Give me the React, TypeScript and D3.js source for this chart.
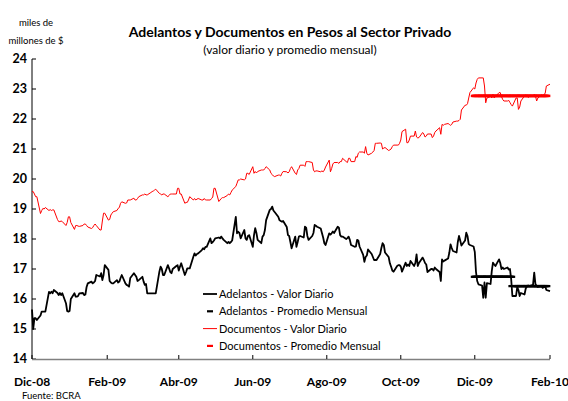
import React from "react";
import * as d3 from "d3";

// Daily values (miles de millones de $), business days from 1-Dec-2008 to 1-Feb-2010
const adelantosDiario = [
  15.65, 15.0, 15.36, 15.36, 15.3,
  15.45, 15.58, 15.58, 15.58, 15.58,
  16.24, 16.19, 16.24, 16.19, 16.3,
  16.2, 16.13, 16.2, 16.13, 16.19,
  15.86, 15.6, 15.58, 15.6, 16.0,
  16.19, 16.08, 16.08, 16.1, 16.19,
  16.2, 16.13, 16.15, 16.4, 16.52,
  16.58, 16.52, 16.55, 16.6, 16.8,
  16.75, 16.86, 16.63, 16.8, 17.13,
  16.97, 16.6, 16.55, 16.52, 16.52,
  16.63, 16.55, 16.58, 16.7, 16.8,
  16.52, 16.47, 16.45, 16.41, 16.7,
  16.86, 16.8, 16.74, 16.6, 16.63,
  16.74, 16.58, 16.47, 16.5, 16.19,
  16.19, 16.19, 16.19, 16.19, 16.19,
  16.91, 17.08, 17.0, 16.8, 16.8,
  17.13, 17.02, 16.9, 16.86, 17.0,
  17.1, 17.13, 16.95, 17.08, 17.19,
  16.8, 16.9, 17.02, 17.02, 17.02,
  17.41, 17.52, 17.45, 17.5, 17.52,
  17.63, 17.69, 17.66, 17.74, 17.74,
  18.02, 17.86, 17.9, 17.95, 18.02,
  18.05, 18.02, 18.08, 18.02, 17.97,
  17.86, 17.9, 17.86, 17.9, 17.95,
  18.74, 18.19, 18.24, 18.2, 18.02,
  18.3, 18.02, 17.97, 18.1, 18.13,
  17.74, 18.13, 18.36, 18.2, 17.97,
  17.86, 18.08, 18.13, 18.3, 18.63,
  18.97, 19.0, 19.08, 18.95, 18.9,
  18.74, 18.63, 18.6, 18.58, 18.6,
  18.4, 18.13, 18.1, 17.9, 17.69,
  18.08, 17.74, 17.9, 18.08, 18.1,
  18.05, 18.41, 18.38, 18.1, 17.97,
  18.1, 18.2, 18.47, 18.44, 18.41,
  18.35, 18.2, 18.05, 17.86, 17.8,
  18.19, 18.15, 18.19, 18.25, 18.2,
  18.41, 18.38, 18.13, 18.08, 18.08,
  18.0, 18.03, 18.08, 17.97, 17.8,
  17.74, 17.75, 17.97, 17.95, 17.75,
  17.47, 17.24, 17.4, 17.45, 17.65,
  17.5, 17.4, 17.3, 17.3, 17.3,
  17.5, 17.7, 17.86, 17.8, 17.55,
  17.4, 17.19, 17.08, 16.95, 16.91,
  17.1, 17.13, 17.13, 17.08, 16.91,
  17.21, 17.1, 17.15, 17.1, 17.27,
  17.1, 17.2, 17.49, 17.1, 17.2,
  17.38, 17.3, 17.2, 17.15, 16.9,
  17.0, 17.0, 16.95, 17.05, 17.0,
  16.9, 16.6, 17.32, 17.25, 17.28,
  17.35, 17.54, 17.82, 17.7, 17.6,
  17.55, 17.9, 18.1, 17.95, 17.78,
  17.95, 18.21, 18.1, 17.83, 17.8,
  17.75, 17.57, 16.9, 16.6, 16.49,
  16.45, 16.04, 16.55, 16.04, 16.53,
  16.5, 16.93, 17.21, 17.15, 17.1,
  17.32, 17.2, 17.0, 17.05, 17.0,
  17.05, 16.98, 17.0, 16.66, 16.1,
  16.1, 16.4, 16.3, 16.1, 16.2,
  16.15, 16.35, 16.43, 16.45, 16.43,
  16.47, 16.88, 16.5, 16.43, 16.4,
  16.43, 16.37, 16.4, 16.43, 16.3,
  16.26,
];

const documentosDiario = [
  19.58, 19.58, 19.5, 19.41, 19.41,
  18.85, 18.95, 19.02, 19.0, 19.05,
  18.95, 18.98, 18.95, 18.97, 18.97,
  18.65, 18.58, 18.58, 18.6, 18.58,
  18.45, 18.55, 18.74, 18.74, 18.55,
  18.32, 18.45, 18.45, 18.43, 18.42,
  18.45, 18.5, 18.5, 18.45, 18.4,
  18.35, 18.38, 18.45, 18.5, 18.45,
  18.3, 18.3, 18.6, 18.86, 18.86,
  18.63, 18.65, 18.8, 18.86, 18.91,
  18.95, 19.02, 19.05, 19.19, 19.24,
  19.19, 19.2, 19.3, 19.3, 19.3,
  19.36, 19.3, 19.3, 19.35, 19.41,
  19.47, 19.47, 19.5, 19.47, 19.47,
  19.55, 19.58, 19.6, 19.63, 19.66,
  19.52, 19.5, 19.47, 19.5, 19.5,
  19.41, 19.45, 19.5, 19.5, 19.5,
  19.5, 19.69, 19.69, 19.5, 19.5,
  19.19, 19.22, 19.22, 19.3, 19.41,
  19.3, 19.35, 19.3, 19.33, 19.35,
  19.3, 19.3, 19.35, 19.3, 19.3,
  19.3, 19.35, 19.4, 19.69, 19.69,
  19.25, 19.3, 19.35, 19.38, 19.38,
  19.45, 19.5, 19.47, 19.55, 19.63,
  19.75, 19.86, 19.97, 19.97, 20.0,
  19.97, 20.0, 20.19, 20.19, 20.15,
  20.41, 20.19, 20.25, 20.2, 20.25,
  20.3, 20.3, 20.3, 20.35, 20.41,
  20.3, 20.19, 20.15, 20.1, 20.08,
  20.13, 20.13, 20.1, 20.19, 20.25,
  20.24, 20.2, 20.24, 20.35, 20.41,
  20.19, 20.15, 20.3, 20.35, 20.46,
  20.46, 20.42, 20.58, 20.58, 20.58,
  20.55, 20.3, 20.24, 20.27, 20.27,
  20.24, 20.27, 20.24, 20.3, 20.4,
  20.63, 20.24, 20.35, 20.5, 20.55,
  20.55, 20.52, 20.58, 20.58, 20.69,
  20.58, 20.55, 20.69, 20.69, 20.58,
  20.58, 20.75, 20.72, 20.86, 20.9,
  20.9, 20.86, 21.08, 20.86, 20.8,
  20.86, 20.9, 20.95, 21.19, 21.19,
  21.2, 21.19, 21.0, 21.03, 21.05,
  20.95, 20.97, 21.0, 21.08, 21.13,
  21.13, 21.13, 21.19, 21.3, 21.58,
  21.66, 21.21, 21.21, 21.3, 21.43,
  21.43, 21.6, 21.4, 21.37, 21.38,
  21.55, 21.5, 21.4, 21.43, 21.5,
  21.5, 21.38, 21.43, 21.55, 21.6,
  21.71, 21.49, 21.82, 21.79, 21.82,
  21.85, 21.82, 21.79, 21.82, 21.9,
  21.93, 21.93, 21.95, 21.99, 22.3,
  22.46, 22.46, 22.51, 22.7, 22.88,
  23.04, 23.0, 23.2, 23.32, 23.37,
  23.37, 23.37, 23.1, 22.54, 22.7,
  22.75, 22.7, 22.82, 22.7, 22.75,
  22.88, 22.88, 22.75, 22.65, 22.6,
  22.6, 22.62, 22.55, 22.48, 22.43,
  22.7, 22.7, 22.32, 22.4, 22.6,
  22.77, 22.8, 22.77, 22.72, 22.75,
  22.77, 22.82, 22.77, 22.6, 22.7,
  22.8, 22.77, 22.82, 22.85, 23.1,
  23.16,
];

// Monthly averages (year, month index)
const promedioMeses: [number, number][] = [[2009, 11], [2010, 0]];
const adelantosPromedio = [16.74, 16.43];
const documentosPromedio = [22.77, 22.77];

const xTickDates: [number, number][] = [
  [2008, 11], [2009, 1], [2009, 3], [2009, 5], [2009, 7], [2009, 9], [2009, 11], [2010, 1],
];
const xTickLabels = ["Dic-08", "Feb-09", "Abr-09", "Jun-09", "Ago-09", "Oct-09", "Dic-09", "Feb-10"];
const yTicks = [14, 15, 16, 17, 18, 19, 20, 21, 22, 23, 24];

const legendItems = [
  { label: "Adelantos - Valor Diario", color: "#000000", kind: "line" },
  { label: "Adelantos - Promedio Mensual", color: "#000000", kind: "marker" },
  { label: "Documentos - Valor Diario", color: "#ff0000", kind: "line" },
  { label: "Documentos - Promedio Mensual", color: "#ff0000", kind: "marker" },
];

function businessDays(count: number): Date[] {
  const out: Date[] = [];
  let t = Date.UTC(2008, 11, 1);
  while (out.length < count) {
    const d = new Date(t);
    const wd = d.getUTCDay();
    if (wd !== 0 && wd !== 6) out.push(d);
    t += 86400000;
  }
  return out;
}

const FONT = "Lato, 'Open Sans', sans-serif";

export default function App() {
  const W = 568;
  const H = 401;
  const dates = businessDays(adelantosDiario.length);

  const x = d3
    .scaleUtc()
    .domain([new Date(Date.UTC(2008, 11, 1)), new Date(Date.UTC(2010, 1, 1))])
    .range([32, 550]);
  const y = d3.scaleLinear().domain([14, 24]).range([359, 59]);

  const line = d3
    .line<number>()
    .x((_, i) => x(dates[i]))
    .y((v) => y(v));

  const avgMarks = (values: number[]) => {
    const marks: { x: number; y: number }[] = [];
    promedioMeses.forEach(([yr, mo], k) => {
      dates.forEach((d) => {
        if (d.getUTCFullYear() === yr && d.getUTCMonth() === mo) {
          marks.push({ x: x(d), y: y(values[k]) });
        }
      });
    });
    return marks;
  };

  const blackAvg = avgMarks(adelantosPromedio);
  const redAvg = avgMarks(documentosPromedio);

  return (
    <svg
      width={W}
      height={H}
      style={{ position: "absolute", left: 0, top: 0, background: "#fff" }}
      fontFamily={FONT}
    >
      <rect width={W} height={H} fill="#fff" />
      {/* titles */}
      <text x={290} y={37} textAnchor="middle" fontSize={14} fontWeight="bold" fill="#000">
        Adelantos y Documentos en Pesos al Sector Privado
      </text>
      <text x={290} y={54} textAnchor="middle" fontSize={12} fill="#000">
        (valor diario y promedio mensual)
      </text>
      <text x={36} y={26} textAnchor="middle" fontSize={9.5} fill="#000">
        miles de
      </text>
      <text x={36} y={44} textAnchor="middle" fontSize={9.5} fill="#000">
        millones de $
      </text>

      {/* y axis */}
      <line x1={32} x2={32} y1={y(24)} y2={y(14)} stroke="#000" strokeWidth={1} />
      {yTicks.map((t) => (
        <g key={t}>
          <line x1={32} x2={36} y1={y(t)} y2={y(t)} stroke="#000" strokeWidth={1} />
          <text x={27} y={y(t) + 4} textAnchor="end" fontSize={12.5} fontWeight="bold" fill="#000">
            {t}
          </text>
        </g>
      ))}

      {/* x axis */}
      <line x1={32} x2={550} y1={359.5} y2={359.5} stroke="#808080" strokeWidth={1.5} />
      {xTickDates.map(([yr, mo], i) => {
        const xx = x(new Date(Date.UTC(yr, mo, 1)));
        return (
          <g key={i}>
            <line x1={xx} x2={xx} y1={359} y2={355} stroke="#000" strokeWidth={1} />
            <text x={xx} y={386} textAnchor="middle" fontSize={12} fontWeight="bold" fill="#000">
              {xTickLabels[i]}
            </text>
          </g>
        );
      })}

      {/* series */}
      <path d={line(documentosDiario) || ""} fill="none" stroke="#ff0000" strokeWidth={1} strokeLinejoin="round" />
      <path d={line(adelantosDiario) || ""} fill="none" stroke="#000" strokeWidth={1.8} strokeLinejoin="round" />
      {blackAvg.map((m, i) => (
        <line key={"b" + i} x1={m.x - 4} x2={m.x + 4} y1={m.y} y2={m.y} stroke="#000" strokeWidth={2.3} />
      ))}
      {redAvg.map((m, i) => (
        <line key={"r" + i} x1={m.x - 4} x2={m.x + 4} y1={m.y} y2={m.y} stroke="#ff0000" strokeWidth={2.5} />
      ))}

      {/* legend */}
      {legendItems.map((it, i) => {
        const ly = 294 + i * 17.3;
        return (
          <g key={it.label}>
            {it.kind === "line" ? (
              <line x1={203} x2={217} y1={ly} y2={ly} stroke={it.color} strokeWidth={it.color === "#000000" ? 1.8 : 1} />
            ) : (
              <line x1={207} x2={213} y1={ly} y2={ly} stroke={it.color} strokeWidth={2.2} />
            )}
            <text x={219} y={ly + 4} fontSize={11} fill="#000">
              {it.label}
            </text>
          </g>
        );
      })}

      <text x={22} y={399} fontSize={9.5} fill="#000">
        Fuente: BCRA
      </text>
    </svg>
  );
}
